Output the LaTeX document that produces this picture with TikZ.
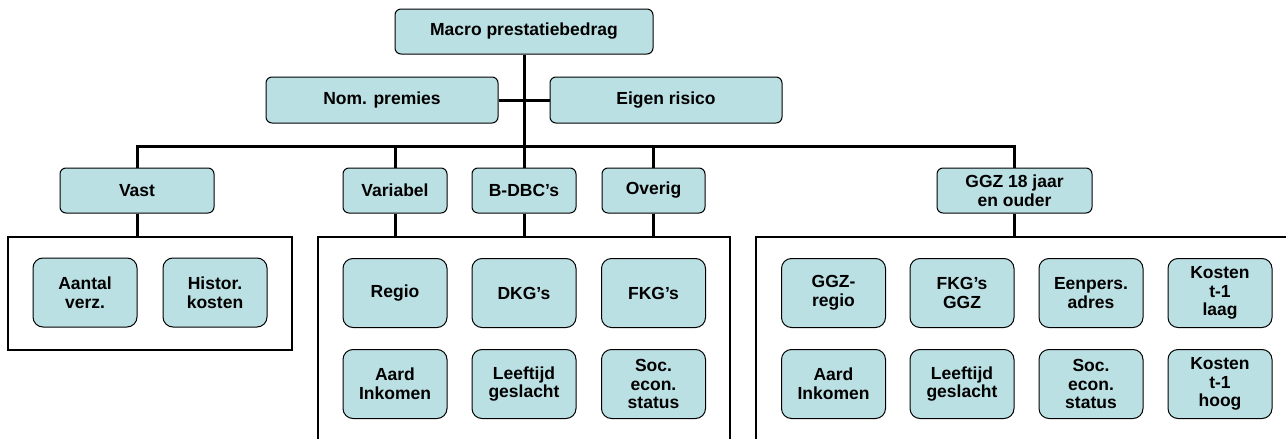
\documentclass[tikz,border=0pt]{standalone}
\usepackage{fontspec}
\setmainfont{Liberation Sans}
\definecolor{boxfill}{RGB}{187,224,227}
\begin{document}
\begin{tikzpicture}[x=1pt,y=-1pt,
  tbox/.style={draw=black, line width=1pt, fill=boxfill, rounded corners=6pt,
    font=\bfseries\fontsize{17.5}{18.8}\selectfont, align=center, inner sep=0pt,
    minimum height=45pt},
  leaf/.style={tbox, rounded corners=10pt, minimum width=104pt, minimum height=69pt},
  conn/.style={line width=3pt},
  frame/.style={line width=1.5pt}]
\useasboundingbox (0,0) rectangle (1286,439);
% top levels
\node[tbox, minimum width=258pt] (macro) at (524,31.5) {Macro prestatiebedrag};
\node[tbox, minimum width=232pt, minimum height=46pt] (nom) at (382,100) {Nom. premies};
\node[tbox, minimum width=232pt, minimum height=46pt] (eigen) at (666,100) {Eigen risico};
\node[tbox, minimum width=154pt] (vast) at (137,190.5) {Vast};
\node[tbox, minimum width=104pt] (var) at (395,190.5) {Variabel};
\node[tbox, minimum width=104pt] (bdbc) at (524,190.5) {B-DBC’s};
\node[tbox, minimum width=103pt] (overig) at (653.5,190.5) {Overig};
\node[tbox, minimum width=155pt] (ggz) at (1014.5,190.5) {GGZ 18 jaar\\en ouder};
\coordinate (bar) at (524,146);
\coordinate (ft) at (0,237);
% frames
\draw[frame] (8,237) rectangle (292,350);
\draw[frame] (318,440) -- (318,237) -- (730,237) -- (730,440);
\draw[frame] (756,440) -- (756,237) -- (1290,237);
% connectors
\draw[conn] (macro.south) -- (bar);
\draw[conn] (nom.east) -- (eigen.west);
\draw[conn, line join=miter] (vast.north) |- (bar) -| (ggz.north);
\draw[conn] (var.north |- bar) -- (var.north);
\draw[conn] (bdbc.north |- bar) -- (bdbc.north);
\draw[conn] (overig.north |- bar) -- (overig.north);
\draw[conn] (vast.south) -- (vast.south |- ft);
\draw[conn] (var.south) -- (var.south |- ft);
\draw[conn] (bdbc.south) -- (bdbc.south |- ft);
\draw[conn] (overig.south) -- (overig.south |- ft);
\draw[conn] (ggz.south) -- (ggz.south |- ft);
% leaves: vast
\node[leaf] (aantal) at (85,292.5) {Aantal\\verz.};
\node[leaf] (histor) at (215,292.5) {Histor.\\kosten};
% leaves: middle
\node[leaf] (regio) at (395,293) {Regio};
\node[leaf] (dkg) at (524,293) {DKG’s};
\node[leaf] (fkg) at (653.5,293) {FKG’s};
\node[leaf] (aard) at (395,384) {Aard\\Inkomen};
\node[leaf] (leeft) at (524,384) {Leeftijd\\geslacht};
\node[leaf] (soc) at (653.5,384) {Soc.\\econ.\\status};
% leaves: GGZ
\node[leaf] (ggzregio) at (833.5,293) {GGZ-\\regio};
\node[leaf] (fkgggz) at (962,293) {FKG’s\\GGZ};
\node[leaf] (eenpers) at (1091,293) {Eenpers.\\adres};
\node[leaf] (klaag) at (1220,293) {Kosten\\t-1\\laag};
\node[leaf] (aard2) at (833.5,384) {Aard\\Inkomen};
\node[leaf] (leeft2) at (962,384) {Leeftijd\\geslacht};
\node[leaf] (soc2) at (1091,384) {Soc.\\econ.\\status};
\node[leaf] (khoog) at (1220,384) {Kosten\\t-1\\hoog};
\end{tikzpicture}
\end{document}
